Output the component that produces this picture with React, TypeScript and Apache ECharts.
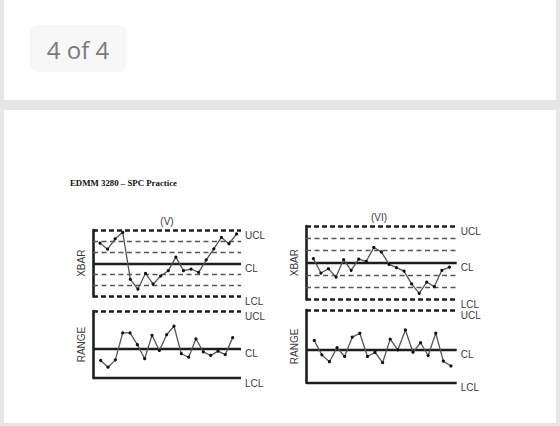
import React, { useEffect, useRef } from "react";
import * as echarts from "echarts";

const PAGE_LABEL = "4 of 4";
const TITLE = "EDMM 3280 – SPC Practice";
const CHART_TITLES = ["(V)", "(VI)"];
const AXIS_NAMES = ["XBAR", "RANGE"];
const LIMIT_LABELS = ["UCL", "CL", "LCL"];

// XBAR values in sigma units (CL = 0, UCL = +3, LCL = -3)
const XBAR_V = [1.82, 1.27, 2.2, 2.79, -1.45, -2.33, -0.91, -1.88, -1.15, -0.67, 0.55, -0.67, -0.52, -0.82, 0.3, 1.3, 2.33, 1.76, 2.64];
const XBAR_VI = [0.33, -0.85, -0.5, -1.18, 0.25, -0.63, 0.28, 0.11, 1.24, 0.88, -0.14, -0.41, -0.69, -1.74, -2.51, -1.6, -1.96, -0.63, -0.36];
// RANGE values relative to R-bar (CL = 1, LCL = 0)
const RANGE_V = [0.6, 0.37, 0.62, 1.54, 1.54, 1.14, 0.66, 1.46, 0.94, 1.48, 1.77, 0.83, 0.71, 1.34, 0.89, 0.77, 0.92, 0.8, 1.38];
const RANGE_VI = [1.29, 0.85, 0.64, 1.07, 0.8, 1.39, 1.51, 0.8, 0.93, 0.61, 1.33, 1.0, 1.61, 0.93, 1.22, 0.83, 1.51, 0.66, 0.51];

const XBAR_LIMITS = [3, 0, -3];
const XBAR_ZONES = [2, 1, -1, -2];
const RANGE_V_LIMITS = [2.29, 1, 0];
const RANGE_VI_LIMITS = [2.22, 1, 0];

const INK = "#1e1e1e";
const LABEL_COLOR = "#3a3a3a";

function limitLines(limits: number[], zones: number[], solidLcl: boolean) {
  const styles = [
    { type: [5, 3], width: 2.6, color: INK },
    { type: "solid", width: 2.4, color: INK },
    solidLcl ? { type: "solid", width: 2.4, color: INK } : { type: [5, 3], width: 2.6, color: INK },
  ];
  const items: any[] = limits.map((v, i) => ({
    yAxis: v,
    lineStyle: styles[i],
    label: {
      show: true,
      formatter: "\n" + LIMIT_LABELS[i],
      position: "end",
      distance: 4,
      lineHeight: 10,
      color: LABEL_COLOR,
      fontSize: 10,
      fontFamily: "Liberation Sans, Arial, sans-serif",
    },
  }));
  zones.forEach((z) =>
    items.push({
      yAxis: z,
      lineStyle: { type: [5, 3.5], width: 1.3, color: "#555" },
      label: { show: false },
    })
  );
  return items;
}

export default function App() {
  const ref = useRef<HTMLDivElement>(null);
  useEffect(() => {
    if (!ref.current) return;
    const chart = echarts.init(ref.current, null, { renderer: "svg" });

    const grids = [
      { left: 93, top: 230, width: 148, height: 66.5 },
      { left: 93, top: 311, width: 148, height: 67 },
      { left: 306, top: 226, width: 150.7, height: 73.3 },
      { left: 306, top: 310, width: 150.7, height: 72.7 },
    ];
    const xRanges = [
      [0.08, 19.58],
      [-0.05, 20.14],
      [0.03, 19.96],
      [-0.09, 19.76],
    ];
    const yRanges = [
      [-3, 3],
      [0, RANGE_V_LIMITS[0]],
      [-3, 3],
      [0, RANGE_VI_LIMITS[0]],
    ];
    const seriesData = [XBAR_V, RANGE_V, XBAR_VI, RANGE_VI];
    const limitSets = [XBAR_LIMITS, RANGE_V_LIMITS, XBAR_LIMITS, RANGE_VI_LIMITS];
    const zoneSets = [XBAR_ZONES, [], XBAR_ZONES, []];
    const solidLcl = [false, true, false, true];

    const option: any = {
      animation: false,
      backgroundColor: "#e6e6e6",
      grid: grids.map((g) => ({ ...g, containLabel: false })),
      xAxis: grids.map((_, i) => ({
        type: "value",
        gridIndex: i,
        min: xRanges[i][0],
        max: xRanges[i][1],
        show: false,
      })),
      yAxis: grids.map((_, i) => ({
        type: "value",
        gridIndex: i,
        min: yRanges[i][0],
        max: yRanges[i][1],
        name: AXIS_NAMES[i % 2],
        nameLocation: "middle",
        nameGap: 7,
        nameRotate: 90,
        nameTextStyle: {
          color: LABEL_COLOR,
          fontSize: 10,
          fontFamily: "Liberation Sans, Arial, sans-serif",
        },
        axisLine: { show: true, lineStyle: { color: INK, width: 2.6 } },
        axisTick: { show: false },
        axisLabel: { show: false },
        splitLine: { show: false },
      })),
      series: seriesData.map((d, i) => ({
        type: "line",
        xAxisIndex: i,
        yAxisIndex: i,
        data: d.map((v, k) => [k + 1, v]),
        symbol: "circle",
        symbolSize: 3.2,
        itemStyle: { color: "#111" },
        lineStyle: { color: "#555", width: 1.3 },
        z: 5,
        markLine: {
          silent: true,
          symbol: ["none", "none"],
          data: limitLines(limitSets[i], zoneSets[i], solidLcl[i]),
          z: 3,
        },
      })),
      graphic: [
        { type: "rect", z: 0, shape: { x: 4, y: 0, width: 552, height: 100 }, style: { fill: "#ffffff" } },
        { type: "rect", z: 0, shape: { x: 4, y: 110, width: 552, height: 313 }, style: { fill: "#ffffff" } },
        { type: "rect", z: 1, shape: { x: 30, y: 25, width: 97, height: 47, r: 8 }, style: { fill: "#f7f7f7" } },
        {
          type: "text",
          z: 2,
          x: 78,
          y: 49,
          style: {
            text: PAGE_LABEL,
            fill: "#7a7a7a",
            fontSize: 24,
            fontFamily: "Open Sans, sans-serif",
            align: "center",
            verticalAlign: "middle",
          },
        },
        {
          type: "text",
          z: 2,
          x: 70,
          y: 182.5,
          style: {
            text: TITLE,
            fill: "#111",
            fontSize: 8.8,
            fontWeight: "bold",
            fontFamily: "Liberation Serif, Times New Roman, serif",
            align: "left",
            verticalAlign: "middle",
          },
        },
        {
          type: "text",
          z: 2,
          x: 167,
          y: 221,
          style: {
            text: CHART_TITLES[0],
            fill: LABEL_COLOR,
            fontSize: 10,
            fontFamily: "Liberation Sans, Arial, sans-serif",
            align: "center",
            verticalAlign: "middle",
          },
        },
        {
          type: "text",
          z: 2,
          x: 379,
          y: 217,
          style: {
            text: CHART_TITLES[1],
            fill: LABEL_COLOR,
            fontSize: 10,
            fontFamily: "Liberation Sans, Arial, sans-serif",
            align: "center",
            verticalAlign: "middle",
          },
        },
      ],
    };
    chart.setOption(option);
    return () => chart.dispose();
  }, []);

  return (
    <div
      ref={ref}
      style={{ position: "fixed", left: 0, top: 0, width: 560, height: 426 }}
    />
  );
}
